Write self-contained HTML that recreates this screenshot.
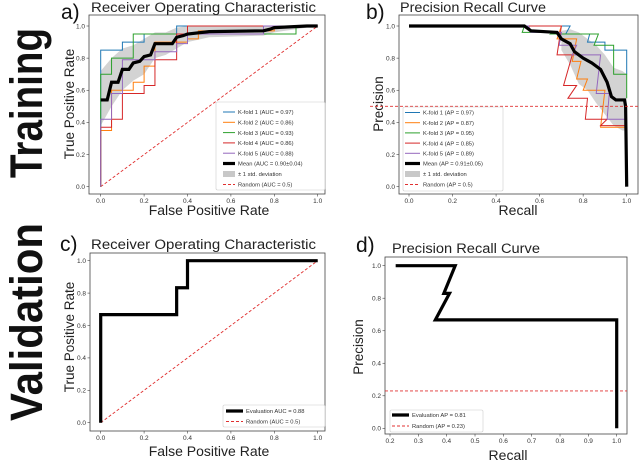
<!DOCTYPE html>
<html><head><meta charset="utf-8"><style>
html,body{margin:0;padding:0;background:#fff}
svg{display:block;font-family:"Liberation Sans","DejaVu Sans",sans-serif}
</style></head><body>
<svg id="fig" width="640" height="462" viewBox="0 0 640 462">
<text x="42" y="103" transform="rotate(-90 42 103)" text-anchor="middle" font-size="45" font-weight="bold" fill="#111" textLength="150" lengthAdjust="spacingAndGlyphs">Training</text>
<text x="42" y="322" transform="rotate(-90 42 322)" text-anchor="middle" font-size="45" font-weight="bold" fill="#111" textLength="198" lengthAdjust="spacingAndGlyphs">Validation</text>
</svg>
<script>
// ---------- data ----------
const tickVals01 = [0, 0.2, 0.4, 0.6, 0.8, 1.0];
const tickLabels01 = ["0.0","0.2","0.4","0.6","0.8","1.0"];
const tickValsD = [0.2,0.3,0.4,0.5,0.6,0.7,0.8,0.9,1.0];
const tickLabelsD = ["0.2","0.3","0.4","0.5","0.6","0.7","0.8","0.9","1.0"];
const colors = ["#1f77b4","#ff7f0e","#2ca02c","#d62728","#9467bd"];

// Panel a ROC folds: [fpr, tpr]
const rocFold1 = [[0,0],[0,0.85],[0.1,0.85],[0.1,0.9],[0.2,0.9],[0.2,0.95],[0.35,0.95],[0.35,1],[1,1]];
const rocFold2 = [[0,0],[0,0.35],[0.05,0.35],[0.05,0.6],[0.15,0.6],[0.15,0.65],[0.2,0.65],[0.2,0.75],[0.25,0.75],[0.25,0.9],[0.4,0.9],[0.4,0.92],[0.45,0.92],[0.45,0.97],[0.8,0.97],[0.8,1],[1,1]];
const rocFold3 = [[0,0],[0,0.7],[0.05,0.7],[0.05,0.8],[0.15,0.8],[0.15,0.95],[0.9,0.95],[0.9,1],[1,1]];
const rocFold4 = [[0,0],[0,0.37],[0.05,0.37],[0.05,0.42],[0.1,0.42],[0.1,0.58],[0.2,0.58],[0.2,0.63],[0.25,0.63],[0.25,0.79],[0.35,0.79],[0.35,0.95],[0.4,0.95],[0.4,1],[1,1]];
const rocFold5 = [[0,0],[0,0.42],[0.05,0.42],[0.05,0.58],[0.1,0.58],[0.1,0.79],[0.25,0.79],[0.25,0.84],[0.35,0.84],[0.35,0.89],[0.4,0.89],[0.4,0.95],[0.75,0.95],[0.75,1],[1,1]];
const rocMean = [[0,0.54],[0.03,0.54],[0.05,0.65],[0.08,0.65],[0.1,0.73],[0.13,0.73],[0.15,0.77],[0.18,0.78],[0.2,0.81],[0.23,0.82],[0.25,0.89],[0.33,0.89],[0.35,0.93],[0.38,0.94],[0.4,0.95],[0.5,0.965],[0.75,0.97],[0.78,0.98],[0.8,0.99],[0.95,1],[1,1]];
const rocBandX = [0,0.05,0.1,0.15,0.2,0.25,0.3,0.35,0.4,0.5,0.75,0.8,1];
const rocBandUpper = [0.72,0.8,0.86,0.88,0.92,0.96,0.96,0.99,1,1,1,1,1];
const rocBandLower = [0.38,0.5,0.6,0.66,0.7,0.8,0.82,0.86,0.9,0.93,0.94,0.96,1];
const rocFoldLabels = ["K-fold 1 (AUC = 0.97)","K-fold 2 (AUC = 0.86)","K-fold 3 (AUC = 0.93)","K-fold 4 (AUC = 0.86)","K-fold 5 (AUC = 0.88)"];

// Panel b PR folds: [recall, precision]
const prFold1 = [[0,1],[0.74,1],[0.72,0.95],[0.83,0.95],[0.82,0.9],[0.9,0.9],[0.9,0.85],[1,0.85],[1,0.7]];
const prFold2 = [[0,1],[0.7,1],[0.68,0.92],[0.77,0.92],[0.75,0.78],[0.79,0.78],[0.77,0.67],[0.82,0.67],[0.8,0.6],[0.9,0.6],[0.88,0.37],[1,0.37],[1,0.35]];
const prFold3 = [[0,1],[0.53,1],[0.52,0.96],[0.66,0.96],[0.65,0.95],[0.87,0.95],[0.85,0.88],[0.94,0.88],[0.94,0.7],[1,0.7],[1,0.55]];
const prFold4 = [[0,1],[0.7,1],[0.68,0.82],[0.75,0.82],[0.71,0.63],[0.77,0.63],[0.73,0.55],[0.82,0.55],[0.81,0.42],[0.91,0.42],[0.88,0.38],[1,0.38]];
const prFold5 = [[0,1],[0.55,1],[0.56,0.96],[0.7,0.96],[0.69,0.88],[0.77,0.88],[0.75,0.82],[0.88,0.82],[0.86,0.58],[0.92,0.58],[0.91,0.42],[1,0.42]];
const prMean = [[0,1],[0.53,1],[0.56,0.97],[0.68,0.96],[0.7,0.92],[0.74,0.89],[0.76,0.84],[0.8,0.8],[0.84,0.77],[0.88,0.73],[0.91,0.65],[0.93,0.56],[0.95,0.54],[0.99,0.54],[0.995,0.5],[1,0]];
const prBandX = [0.7,0.74,0.78,0.82,0.86,0.9,0.94,0.98,1];
const prBandUpper = [0.97,0.98,0.96,0.92,0.88,0.82,0.74,0.72,0.7];
const prBandLower = [0.85,0.76,0.64,0.6,0.52,0.45,0.38,0.35,0.35];
const prFoldLabels = ["K-fold 1 (AP = 0.97)","K-fold 2 (AP = 0.87)","K-fold 3 (AP = 0.95)","K-fold 4 (AP = 0.85)","K-fold 5 (AP = 0.89)"];
const prRandom = 0.5;

// Panel c/d validation
const valRoc = [[0,0],[0,0.667],[0.35,0.667],[0.35,0.833],[0.4,0.833],[0.4,1],[1,1]];
const valPr = [[0.22,1],[0.43,1],[0.39,0.83],[0.41,0.83],[0.36,0.667],[1,0.667],[1,0]];
const valPrRandom = 0.23;

// ---------- drawing ----------
const NS="http://www.w3.org/2000/svg";
const svg=document.getElementById("fig");
function el(tag,attrs,parent){const e=document.createElementNS(NS,tag);for(const k in attrs)e.setAttribute(k,attrs[k]);(parent||svg).appendChild(e);return e;}
function mk(x0,x1,d0,d1){return v=>x0+(v-d0)*(x1-x0)/(d1-d0);}

function panel(cfg){
  const g=el("g",{});
  
  
  el("rect",{x:cfg.box[0],y:cfg.box[1],width:cfg.box[2]-cfg.box[0],height:cfg.box[3]-cfg.box[1],fill:"#fff",stroke:"#444","stroke-width":0.8},g);
  const fx=mk(cfg.px[0],cfg.px[1],cfg.dx[0],cfg.dx[1]);
  const fy=mk(cfg.py[0],cfg.py[1],0,1);
  cfg.xt.forEach((v,i)=>{const x=fx(v);
    el("line",{x1:x,x2:x,y1:cfg.box[3],y2:cfg.box[3]+2.5,stroke:"#444","stroke-width":0.6},g);
    const t=el("text",{x:x,y:cfg.box[3]+9,"font-size":6.5,"text-anchor":"middle",fill:"#333"},g);t.textContent=cfg.xl[i];
    
    });
  cfg.yt.forEach((v,i)=>{const y=fy(v);
    el("line",{x1:cfg.box[0]-2.5,x2:cfg.box[0],y1:y,y2:y,stroke:"#444","stroke-width":0.6},g);
    const t=el("text",{x:cfg.box[0]-4,y:y+2.3,"font-size":6.5,"text-anchor":"end",fill:"#333"},g);t.textContent=cfg.yl[i];
    
    });
  const tt=el("text",{x:cfg.title[1],y:cfg.title[2],"font-size":13.5,fill:"#222",textLength:cfg.title[3],lengthAdjust:"spacingAndGlyphs"},g);tt.textContent=cfg.title[0];
  
  
  const lt=el("text",{x:cfg.letter[1],y:cfg.letter[2],"font-size":21,fill:"#111"},g);lt.textContent=cfg.letter[0];
  
  
  const xl=el("text",{x:cfg.xlab[1],y:cfg.xlab[2],"font-size":14,"text-anchor":"middle",fill:"#222"},g);xl.textContent=cfg.xlab[0];
  
  
  const yl=el("text",{x:cfg.ylab[1],y:cfg.ylab[2],"font-size":13.5,"text-anchor":"middle",fill:"#222",transform:`rotate(-90 ${cfg.ylab[1]} ${cfg.ylab[2]})`},g);yl.textContent=cfg.ylab[0];
  
  
  return {g,fx,fy};
}
function line(p,pts,attrs,name){const d=pts.map((q,i)=>(i?"L":"M")+p.fx(q[0]).toFixed(2)+","+p.fy(q[1]).toFixed(2)).join("");
  const e=el("path",Object.assign({d:d,fill:"none","stroke-linejoin":"miter"},attrs),p.g);
  
  return e;}
function band(p,xs,up,lo,name){let d="";xs.forEach((x,i)=>d+=(i?"L":"M")+p.fx(x)+","+p.fy(up[i]));
  for(let i=xs.length-1;i>=0;i--)d+="L"+p.fx(xs[i])+","+p.fy(lo[i]);d+="Z";
  const e=el("path",{d:d,fill:"#c8c8c8","fill-opacity":0.8},p.g);
  
  }
function legend(p,box,rows,lx,tx,fs){
  const lg=el("g",{},p.g);
  
  
  el("rect",{x:box[0],y:box[1],width:box[2],height:box[3],fill:"#fff","fill-opacity":0.85,stroke:"#ccc","stroke-width":0.6,rx:1.5},lg);
  rows.forEach(r=>{
    if(r.type==="patch"){el("rect",{x:lx[0],y:r.y-3,width:lx[1]-lx[0],height:6,fill:"#c8c8c8"},lg);}
    else el("line",Object.assign({x1:lx[0],x2:lx[1],y1:r.y,y2:r.y},r.st),lg);
    const t=el("text",{x:tx,y:r.y+2.2,"font-size":fs,fill:"#333"},lg);t.textContent=r.label;
    
    
  });
}
const randSt={stroke:"#e03030","stroke-width":0.9,"stroke-dasharray":"3,2"};
const meanSt={stroke:"#000","stroke-width":3.2};

// Panel a
const pa=panel({name:"roc-training-panel",box:[89,15,325,194],px:[100.7,317.7],dx:[0,1],py:[186.7,26],
  xt:tickVals01,xl:tickLabels01,yt:tickVals01,yl:tickLabels01,
  title:["Receiver Operating Characteristic",91,12,225],letter:["a)",61,19],
  xlab:["False Positive Rate",209,215],ylab:["True Positive Rate",74,104]});
band(pa,rocBandX,rocBandUpper,rocBandLower,"std-band");
line(pa,[[0,0],[1,1]],randSt,"random-line");
[rocFold1,rocFold2,rocFold3,rocFold4,rocFold5].forEach((f,i)=>line(pa,f,{stroke:colors[i],"stroke-width":1},"kfold-"+(i+1)+"-line"));
line(pa,rocMean,meanSt,"mean-line");
legend(pa,[216,102,109,88],[
 ...rocFoldLabels.map((l,i)=>({y:112+i*10.3,label:l,st:{stroke:colors[i],"stroke-width":1}})),
 {y:163.5,label:"Mean (AUC = 0.90±0.04)",st:meanSt},
 {y:174,label:"± 1 std. deviation",type:"patch"},
 {y:184.5,label:"Random (AUC = 0.5)",st:randSt}],[223,235],238,5.8);

// Panel b
const pb=panel({name:"pr-training-panel",box:[399,15,638,194],px:[409,626.7],dx:[0,1],py:[186.7,26],
  xt:tickVals01,xl:tickLabels01,yt:tickVals01,yl:tickLabels01,
  title:["Precision Recall Curve",400,12,146],letter:["b)",366,19],
  xlab:["Recall",518,215],ylab:["Precision",383,104]});
band(pb,prBandX,prBandUpper,prBandLower,"std-band");
[prFold1,prFold2,prFold3,prFold4,prFold5].forEach((f,i)=>line(pb,f,{stroke:colors[i],"stroke-width":1},"kfold-"+(i+1)+"-line"));
line(pb,prMean,meanSt,"mean-line");
const rb=el("line",Object.assign({x1:370,x2:640,y1:pb.fy(prRandom),y2:pb.fy(prRandom)},randSt),pb.g);


legend(pb,[403,107,100,84],[
 ...prFoldLabels.map((l,i)=>({y:112.5+i*10.2,label:l,st:{stroke:colors[i],"stroke-width":1}})),
 {y:163.5,label:"Mean (AP = 0.91±0.05)",st:meanSt},
 {y:174,label:"± 1 std. deviation",type:"patch"},
 {y:184.5,label:"Random (AP = 0.5)",st:randSt}],[405,420],423,5.8);

// Panel c
const pc=panel({name:"roc-validation-panel",box:[90,253,325,431],px:[100.7,317.7],dx:[0,1],py:[422.7,260.7],
  xt:tickVals01,xl:tickLabels01,yt:tickVals01,yl:tickLabels01,
  title:["Receiver Operating Characteristic",91,249,225],letter:["c)",60,251],
  xlab:["False Positive Rate",209,456],ylab:["True Positive Rate",74,337]});
line(pc,[[0,0],[1,1]],randSt,"random-line");
line(pc,valRoc,meanSt,"evaluation-line");
legend(pc,[223,405,102,22],[
 {y:411,label:"Evaluation AUC = 0.88",st:meanSt},
 {y:421.5,label:"Random (AUC = 0.5)",st:randSt}],[226,243],246,5.8);

// Panel d
const pd=panel({name:"pr-validation-panel",box:[385,257,627,434],px:[390,616.7],dx:[0.2,1],py:[428.3,265.7],
  xt:tickValsD,xl:tickLabelsD,yt:tickVals01,yl:tickLabels01,
  title:["Precision Recall Curve",392,253,148],letter:["d)",356,252],
  xlab:["Recall",508,460],ylab:["Precision",363,347]});
const rd=el("line",Object.assign({x1:385,x2:627,y1:pd.fy(valPrRandom),y2:pd.fy(valPrRandom)},randSt),pd.g);


line(pd,valPr,meanSt,"evaluation-line");
legend(pd,[390,410,93,22],[
 {y:415,label:"Evaluation AP = 0.81",st:meanSt},
 {y:426,label:"Random (AP = 0.23)",st:randSt}],[392,409],412,5.8);
</script>
</body></html>
